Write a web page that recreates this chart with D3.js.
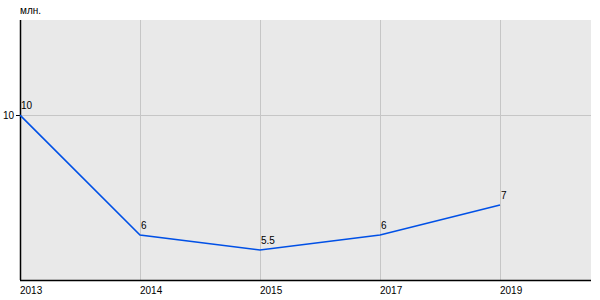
<!DOCTYPE html>
<html>
<head>
<meta charset="utf-8">
<script src="https://cdn.jsdelivr.net/npm/d3@7"></script>
<style>
body{margin:0;background:#fff;}
text{font-family:"Liberation Sans",Arial,sans-serif;font-size:10px;fill:#000;}
</style>
</head>
<body>
<svg id="chart" width="600" height="300"></svg>
<script>
const years=["2013","2014","2015","2017","2019"];
const values=[10,6,5.5,6,7];
const value_labels=["10","6","5.5","6","7"];
const y_ticks=[10];
const unit_label="млн.";

const svg=d3.select("#chart");
const plot_left=20, plot_right=591, plot_top=20, plot_bottom=280;

const x=d3.scalePoint().domain(years).range([plot_left,500]);
const y=d3.scaleLinear().domain([4.5,13.17]).range([plot_bottom,plot_top]);

// background
svg.append("rect")
    .attr("x",plot_left).attr("y",plot_top)
    .attr("width",plot_right-plot_left).attr("height",plot_bottom-plot_top)
    .attr("fill","#e9e9e9");

// vertical grid
for(const yr of years.slice(1)){
    svg.append("line")
        .attr("x1",x(yr)+0.5).attr("x2",x(yr)+0.5)
        .attr("y1",plot_top).attr("y2",plot_bottom)
        .attr("stroke","#c6c6c6").attr("stroke-width",1);
}
// horizontal grid + y ticks
for(const t of y_ticks){
    const yy=Math.round(y(t))+0.5;
    svg.append("line")
        .attr("x1",plot_left).attr("x2",plot_right)
        .attr("y1",yy).attr("y2",yy)
        .attr("stroke","#c6c6c6").attr("stroke-width",1);
    svg.append("line")
        .attr("x1",plot_left-4).attr("x2",plot_left)
        .attr("y1",yy).attr("y2",yy)
        .attr("stroke","#000").attr("stroke-width",1);
    svg.append("text")
        .attr("x",plot_left-6).attr("y",yy+3.5)
        .attr("text-anchor","end")
        .text(t);
}

// axes
svg.append("line")
    .attr("x1",plot_left+0.5).attr("x2",plot_left+0.5)
    .attr("y1",plot_top).attr("y2",plot_bottom)
    .attr("stroke","#000").attr("stroke-width",1.5);
svg.append("line")
    .attr("x1",plot_left).attr("x2",plot_right)
    .attr("y1",plot_bottom+0.5).attr("y2",plot_bottom+0.5)
    .attr("stroke","#000").attr("stroke-width",1.5);

// x labels
for(const yr of years){
    svg.append("text")
        .attr("x",x(yr)).attr("y",plot_bottom+14)
        .attr("text-anchor","start")
        .text(yr);
}

// unit
svg.append("text")
    .attr("x",plot_left).attr("y",14)
    .text(unit_label);

// line
const data=years.map((yr,i)=>({yr,v:values[i],label:value_labels[i]}));
svg.append("path")
    .datum(data)
    .attr("d",d3.line().x(d=>x(d.yr)).y(d=>y(d.v)))
    .attr("fill","none")
    .attr("stroke","#0050e6")
    .attr("stroke-width",1.6);

// value labels
for(const d of data){
    svg.append("text")
        .attr("x",x(d.yr)+1).attr("y",y(d.v)-6)
        .text(d.label);
}
</script>
</body>
</html>
